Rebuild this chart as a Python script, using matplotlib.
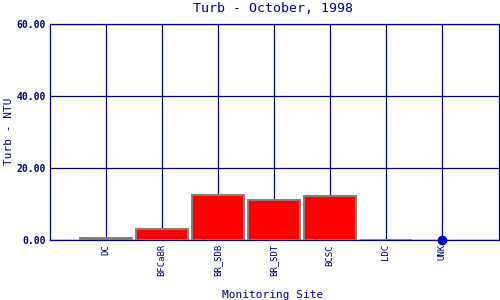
import matplotlib
matplotlib.use('Agg')
import matplotlib.pyplot as plt
import numpy as np

# Datos
sites = ['DC', 'BFCaBR', 'BR_SDB', 'BR_SDT', 'BCSC', 'LDC', 'UNK']
turb = [0.5, 3.0, 12.4, 11.0, 12.1, 0.0]   # barras
unk_value = [0.0]                           # punto UNK
yticks = [0, 20, 40, 60]

navy = '#000080'
plt.rcParams['font.family'] = ['DejaVu Sans Mono']

fig = plt.figure(figsize=(5, 3), dpi=100)
ax = fig.add_axes([0.1, 0.2, 0.898, 0.72])

x = np.arange(len(sites))
ax.bar(x[:len(turb)], turb, width=0.93, color='red', edgecolor='#808080',
       linewidth=1.4, zorder=3)
ax.plot(x[len(turb):], unk_value, 'o', color='#0000cc', markersize=6,
        zorder=4, clip_on=False)

ax.set_xlim(-1, 7.02)
ax.set_ylim(0, 60)
ax.set_xticks(x)
ax.set_xticklabels(sites, rotation=90, fontsize=6.5, color=navy)
ax.set_yticks(yticks)
ax.set_yticklabels([f'{v:.2f}' for v in yticks], fontsize=7, color=navy,
                   fontweight='bold')
ax.tick_params(length=0, pad=3)
ax.grid(True, color=navy, linewidth=0.9, zorder=1)
ax.set_axisbelow(True)
for s in ax.spines.values():
    s.set_color(navy)
    s.set_linewidth(0.9)

fig.text(0.546, 0.973, 'Turb - October, 1998', fontsize=9.5, color=navy,
         ha='center', va='center')
fig.text(0.018, 0.563, 'Turb - NTU', fontsize=8, color=navy, rotation=90,
         ha='center', va='center')
fig.text(0.546, 0.018, 'Monitoring Site', fontsize=8, color=navy,
         ha='center', va='center')

fig.savefig('out.png', dpi=100)
